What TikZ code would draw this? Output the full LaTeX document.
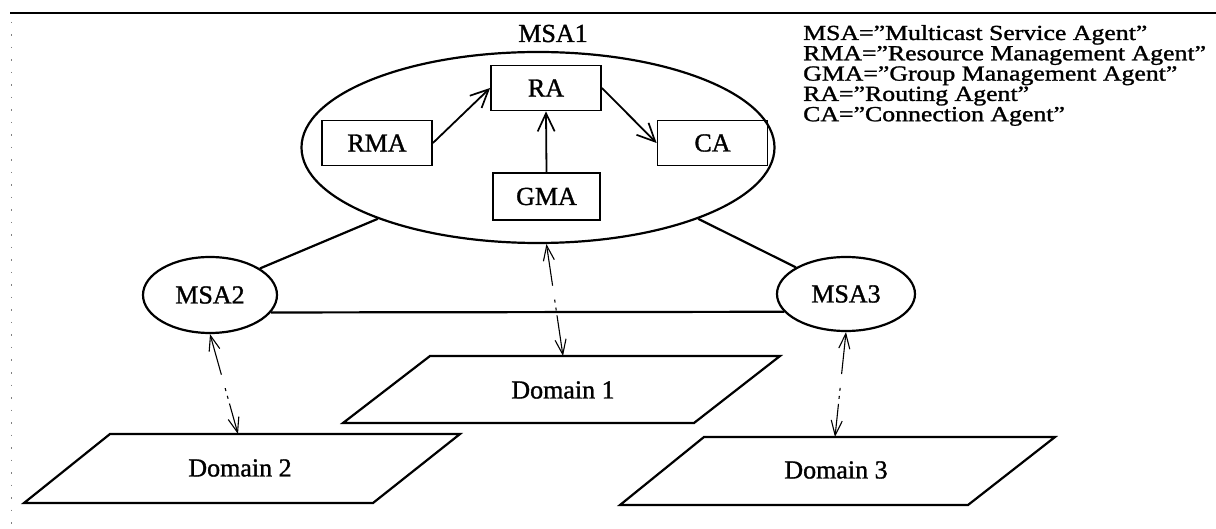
\documentclass[tikz,border=0pt]{standalone}
\usepackage{fontspec}
\setmainfont{Liberation Serif}[FakeBold=1.2]
\usetikzlibrary{shapes.geometric,arrows.meta}
\tikzset{
  agentbox/.style={draw, line width=1.8pt, minimum width=110pt, minimum height=45pt, inner sep=0pt, font=\fontsize{26}{28}\selectfont},
  msaell/.style={draw, ellipse, line width=2.2pt, inner sep=0pt, font=\fontsize{26}{28}\selectfont},
  link/.style={line width=2.2pt},
  flow/.style={line width=1.8pt, -{Straight Barb[length=18pt,width=17pt,line width=1.7pt]}},
  ctl/.style={line width=1.1pt, dash pattern=on 40pt off 14pt on 3pt off 5pt on 3pt off 5pt on 60pt off 5pt,
     {Straight Barb[length=15pt,width=11pt,line width=1.1pt]}-{Straight Barb[length=15pt,width=11pt,line width=1.1pt]}},
  domshape/.style={line width=2.2pt, line join=miter},
  dlabel/.style={font=\fontsize{26}{28}\selectfont},
  legend/.style={anchor=base west, inner sep=0pt, font=\fontsize{21.5}{21}\selectfont}
}
\newcommand{\widetext}[1]{\scalebox{1.2}[1]{#1}}
\begin{document}
\begin{tikzpicture}[x=1pt,y=-1pt]
\useasboundingbox (0,0) rectangle (1216,529);
% frame lines
\coordinate (tl) at (10,13);
\coordinate (tr) at (1216,13);
\draw[line width=2pt] (tl) -- (tr);
\coordinate (lt) at (11,22);
\coordinate (lb) at (11,529);
\draw[gray, line width=1pt, dash pattern=on 1.5pt off 11pt] (lt) -- (lb);

% MSA1
\node[msaell, minimum width=473pt, minimum height=191pt] (msa1) at (538,147.5) {};
\node[anchor=base, inner sep=0pt, font=\fontsize{26}{28}\selectfont] (msa1lbl) at (553,42) {MSA1};
\node[agentbox] (ra) at (546,88) {RA};
\node[agentbox] (rma) at (377,143) {RMA};
\node[agentbox] (ca) at (712.5,143) {CA};
\node[agentbox, minimum width=107pt, minimum height=47pt] (gma) at (546.5,196.5) {GMA};
\draw[flow] (rma.east) -- (ra.west);
\draw[flow] (ra.east) -- (ca.west);
\draw[flow] (gma.north) -- (ra.south);

% MSA2, MSA3
\node[msaell, minimum width=134pt, minimum height=76pt] (msa2) at (210,295) {MSA2};
\node[msaell, minimum width=138pt, minimum height=74pt] (msa3) at (846,294) {MSA3};
\draw[link] (msa2.28) -- (msa1.204);
\draw[link] (msa3.152) -- (msa1.336);
\draw[link] (msa2.-16) -- (msa3.196);

% Domains
\coordinate (d1a) at (430,356);
\coordinate (d1b) at (780,356);
\coordinate (d1c) at (694,423);
\coordinate (d1d) at (343,423);
\draw[domshape] (d1a) -- (d1b) -- (d1c) -- (d1d) -- cycle;
\node[dlabel] (dom1) at (563,390) {Domain 1};
\coordinate (d1top) at (563,356);

\coordinate (d2a) at (110,434);
\coordinate (d2b) at (460,434);
\coordinate (d2c) at (373,503);
\coordinate (d2d) at (24,503);
\draw[domshape] (d2a) -- (d2b) -- (d2c) -- (d2d) -- cycle;
\node[dlabel] (dom2) at (240,468) {Domain 2};
\coordinate (d2top) at (238,434);

\coordinate (d3a) at (704,437);
\coordinate (d3b) at (1055,437);
\coordinate (d3c) at (968,505);
\coordinate (d3d) at (620,505);
\draw[domshape] (d3a) -- (d3b) -- (d3c) -- (d3d) -- cycle;
\node[dlabel] (dom3) at (836,470) {Domain 3};
\coordinate (d3top) at (835,437);

% control arrows
\draw[ctl] (msa2.south) -- (d2top);
\draw[ctl] (msa1.-85) -- (d1top);
\draw[ctl] (msa3.south) -- (d3top);

% legend
\node[legend] (l1) at (803,40) {\widetext{MSA="Multicast Service Agent"}};
\node[legend] (l2) at (803,60.3) {\widetext{RMA="Resource Management Agent"}};
\node[legend] (l3) at (803,80.6) {\widetext{GMA="Group Management Agent"}};
\node[legend] (l4) at (803,100.9) {\widetext{RA="Routing Agent"}};
\node[legend] (l5) at (803,121.2) {\widetext{CA="Connection Agent"}};
\end{tikzpicture}
\end{document}
